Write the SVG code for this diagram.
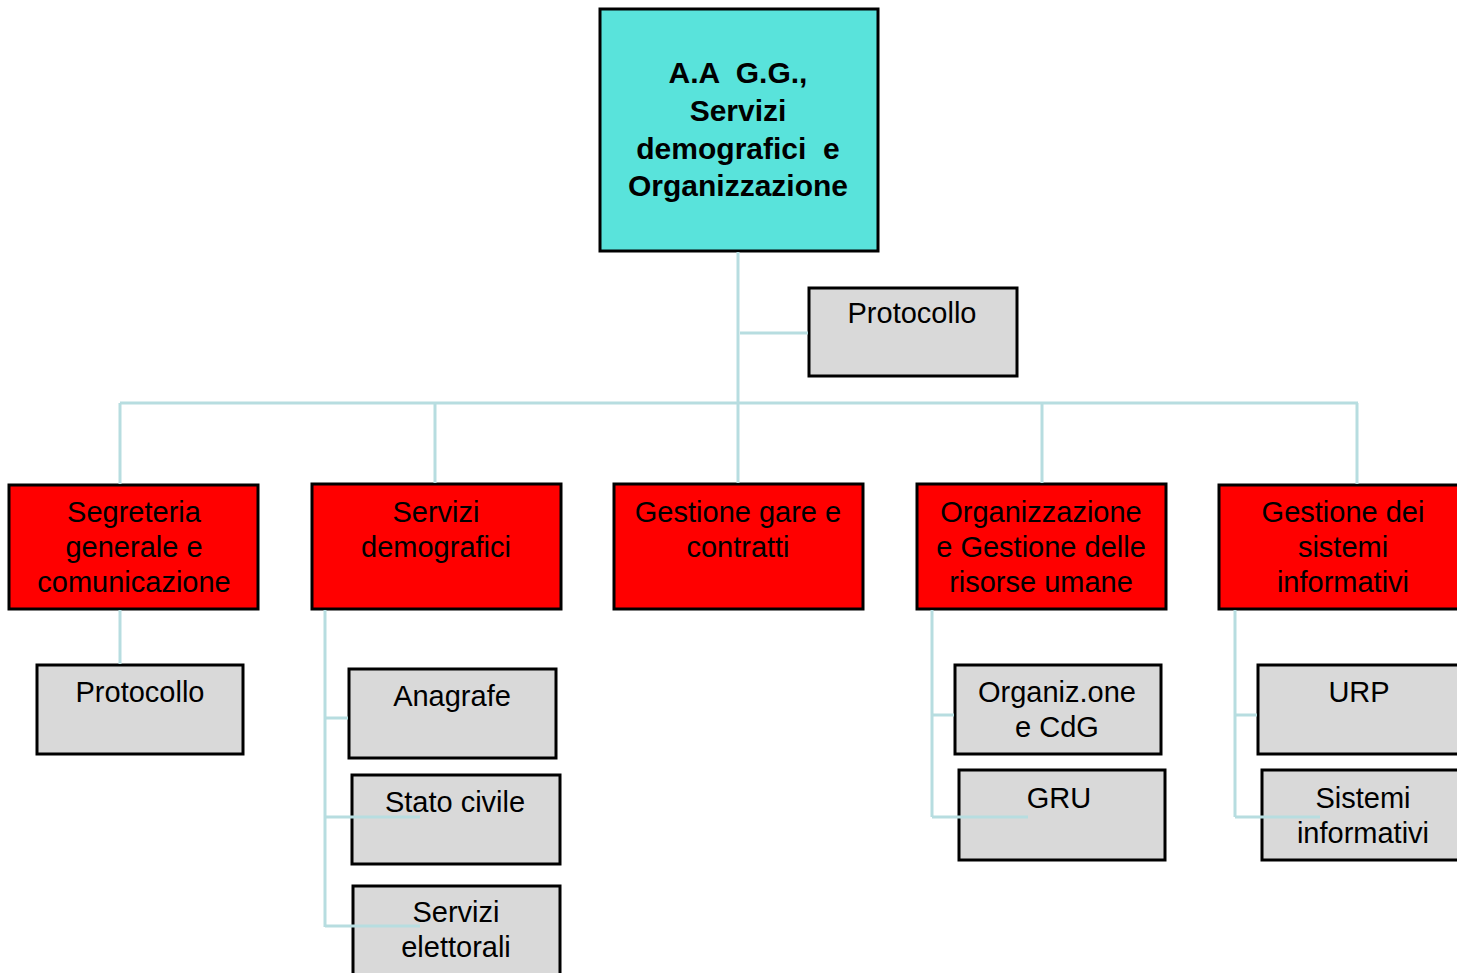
<svg xmlns="http://www.w3.org/2000/svg" width="1457" height="973" viewBox="0 0 1457 973">
  <style>
    .box { stroke: #000; stroke-width: 3; }
    .root { fill: #59e3db; }
    .unit { fill: #ff0000; }
    .office { fill: #d9d9d9; }
    .link { stroke: #b7dde0; stroke-width: 3; fill: none; }
    text { font-family: "Liberation Sans", Arial, sans-serif; font-size: 29px; fill: #000; text-anchor: middle; white-space: pre; }
    .bold { font-weight: bold; font-size: 30px; }
  </style>
  <rect width="1457" height="973" fill="#fff"/>

  <!-- nodes -->
  <g id="root">
    <rect class="box root" x="600" y="9" width="278" height="242"/>
    <text class="bold" x="738" y="83">A.A  G.G.,</text>
    <text class="bold" x="738" y="121">Servizi</text>
    <text class="bold" x="738" y="159">demografici  e</text>
    <text class="bold" x="738" y="196">Organizzazione</text>
  </g>

  <g id="protocollo-top">
    <rect class="box office" x="809" y="288" width="208" height="88"/>
    <text x="912" y="323">Protocollo</text>
  </g>

  <g id="segreteria">
    <rect class="box unit" x="9" y="485" width="249" height="124"/>
    <text x="134" y="522">Segreteria</text>
    <text x="134" y="557">generale e</text>
    <text x="134" y="592">comunicazione</text>
  </g>

  <g id="servizi-demografici">
    <rect class="box unit" x="312" y="484" width="249" height="125"/>
    <text x="436" y="522">Servizi</text>
    <text x="436" y="557">demografici</text>
  </g>

  <g id="gare-contratti">
    <rect class="box unit" x="614" y="484" width="249" height="125"/>
    <text x="738" y="522">Gestione gare e</text>
    <text x="738" y="557">contratti</text>
  </g>

  <g id="risorse-umane">
    <rect class="box unit" x="917" y="484" width="249" height="125"/>
    <text x="1041" y="522">Organizzazione</text>
    <text x="1041" y="557">e Gestione delle</text>
    <text x="1041" y="592">risorse umane</text>
  </g>

  <g id="sistemi-informativi-unit">
    <rect class="box unit" x="1219" y="485" width="249" height="124"/>
    <text x="1343" y="522">Gestione dei</text>
    <text x="1343" y="557">sistemi</text>
    <text x="1343" y="592">informativi</text>
  </g>

  <g id="protocollo">
    <rect class="box office" x="37" y="665" width="206" height="89"/>
    <text x="140" y="702">Protocollo</text>
  </g>

  <g id="anagrafe">
    <rect class="box office" x="349" y="669" width="207" height="89"/>
    <text x="452" y="706">Anagrafe</text>
  </g>

  <g id="stato-civile">
    <rect class="box office" x="352" y="775" width="208" height="89"/>
    <text x="455" y="812">Stato civile</text>
  </g>

  <g id="servizi-elettorali">
    <rect class="box office" x="353" y="886" width="207" height="92"/>
    <text x="456" y="922">Servizi</text>
    <text x="456" y="957">elettorali</text>
  </g>

  <g id="organizzazione-cdg">
    <rect class="box office" x="955" y="665" width="206" height="89"/>
    <text x="1057" y="702">Organiz.one</text>
    <text x="1057" y="737">e CdG</text>
  </g>

  <g id="gru">
    <rect class="box office" x="959" y="770" width="206" height="90"/>
    <text x="1059" y="808">GRU</text>
  </g>

  <g id="urp">
    <rect class="box office" x="1258" y="665" width="210" height="89"/>
    <text x="1359" y="702">URP</text>
  </g>

  <g id="sistemi-informativi">
    <rect class="box office" x="1262" y="770" width="206" height="90"/>
    <text x="1363" y="808">Sistemi</text>
    <text x="1363" y="843">informativi</text>
  </g>

  <!-- connectors -->
  <g id="connectors" class="link">
    <path class="link" d="M738 252 V483"/>
    <path class="link" d="M740 333 H808"/>
    <path class="link" d="M120 403 H1358"/>
    <path class="link" d="M120 403 V484 M435 403 V483 M1042 403 V483 M1357 403 V484"/>
    <path class="link" d="M120 610 V664"/>
    <path class="link" d="M325 610 V927 M325 718 H348 M325 817 H420 M325 926 H420"/>
    <path class="link" d="M932 610 V817 M932 715 H954 M932 817 H1028"/>
    <path class="link" d="M1235 610 V817 M1235 715 H1257 M1235 817 H1320"/>
  </g>
</svg>
